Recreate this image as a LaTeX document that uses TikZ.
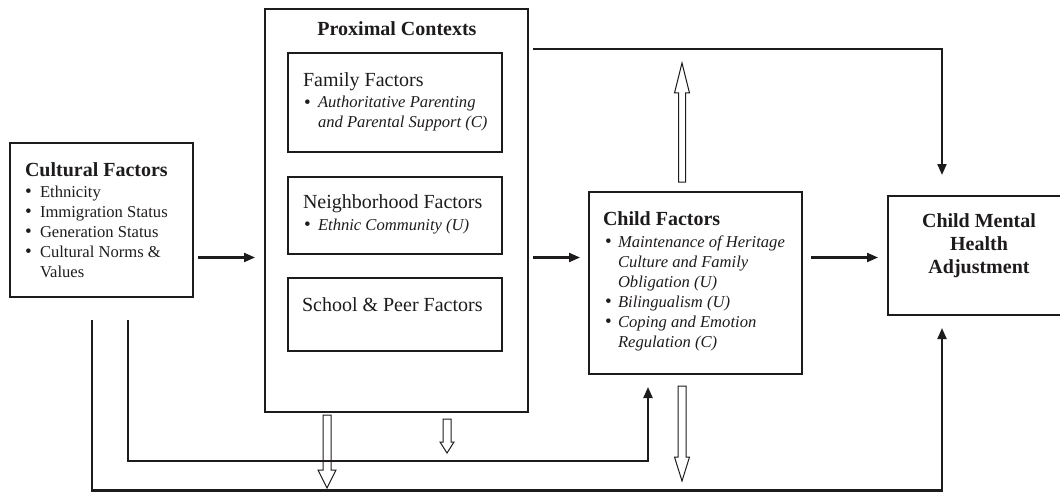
\documentclass[tikz,border=0pt]{standalone}
\usepackage{fontspec}
\setmainfont{Liberation Serif}
\usetikzlibrary{arrows.meta}
\definecolor{ink}{RGB}{30,27,28}
\newcommand\hdfnt{\fontsize{20}{23}\selectfont\bfseries}
\newcommand\rgfnt{\fontsize{20}{24}\selectfont}
\newcommand\itemfnt{\fontsize{16.6}{20}\selectfont}
\newcommand\bitem[2][15pt]{\hbox{\makebox[#1][l]{\raisebox{-0.7pt}{\scalebox{1.15}{\textbullet}}}#2}}
\newcommand\bcont[2][15pt]{\hbox{\hspace*{#1}#2}}
\newcommand\hollowarrow[6]{% x, ystart, yheadbase, ytip, shaftw, headw
  \draw[hollow] ({#1-#5/2},#2) -- ({#1-#5/2},#3) -- ({#1-#6/2},#3) -- (#1,#4) -- ({#1+#6/2},#3) -- ({#1+#5/2},#3) -- ({#1+#5/2},#2) -- cycle;}
\begin{document}
\begin{tikzpicture}[x=1pt,y=-1pt,
  box/.style={draw=ink, line width=2.3pt, inner sep=0pt, outer sep=0pt},
  txt/.style={inner sep=0pt, outer sep=0pt, text=ink, anchor=base west},
  arr/.style={draw=ink, line width=2.1pt, -{Triangle[length=11pt,width=9pt]}},
  hollow/.style={draw=ink, line width=1pt, line join=miter}]

\useasboundingbox (0,0) rectangle (1060,492);
\clip (0,0) rectangle (1060,492);

% boxes
\node[box, minimum width=183pt, minimum height=154pt] (cult) at (101.5,220) {};
\node[box, line width=2pt, minimum width=263pt, minimum height=403pt] (prox) at (396.5,210.5) {};
\node[box, minimum width=214pt, minimum height=99pt] (fam) at (395,102.5) {};
\node[box, minimum width=214pt, minimum height=77pt] (nbh) at (395,215.5) {};
\node[box, minimum width=214pt, minimum height=73pt] (sch) at (395,314.5) {};
\node[box, minimum width=213pt, minimum height=182pt] (child) at (695.5,283) {};
\node[box, minimum width=184pt, minimum height=119pt] (cmh) at (980,255.5) {};

% texts
\node[txt, font=\hdfnt] (cultT) at (25,176) {Cultural Factors};
\node[txt, font=\itemfnt] (cultL) at (25,197) {\vtop{\bitem{Ethnicity}\bitem{Immigration Status}\bitem{Generation Status}\bitem{Cultural Norms \&}\bcont{Values}}};

\node[txt, font=\hdfnt, anchor=base] (proxT) at (397,36) {Proximal Contexts};
\node[txt, font=\rgfnt] (famT) at (303,87) {Family Factors};
\node[txt, font=\itemfnt] (famL) at (304,108) {\vtop{\bitem[14pt]{\itshape Authoritative Parenting}\bcont[14pt]{\itshape and Parental Support (C)}}};
\node[txt, font=\rgfnt] (nbhT) at (303,208) {Neighborhood Factors};
\node[txt, font=\itemfnt] (nbhL) at (304,230) {\bitem[14pt]{\itshape Ethnic Community (U)}};
\node[txt, font=\rgfnt] (schT) at (302,311) {School \& Peer Factors};

\node[txt, font=\hdfnt] (childT) at (603,225) {Child Factors};
\node[txt, font=\itemfnt] (childL) at (605,247) {\vtop{\bitem[13pt]{\itshape Maintenance of Heritage}\bcont[13pt]{\itshape Culture and Family}\bcont[13pt]{\itshape Obligation (U)}\bitem[13pt]{\itshape Bilingualism (U)}\bitem[13pt]{\itshape Coping and Emotion}\bcont[13pt]{\itshape Regulation (C)}}};

\node[txt, font=\hdfnt, anchor=base] (cmhT1) at (979,227) {Child Mental};
\node[txt, font=\hdfnt, anchor=base] (cmhT2) at (979,250) {Health};
\node[txt, font=\hdfnt, anchor=base] (cmhT3) at (979,273) {Adjustment};

% helper coordinates
\coordinate (yMid) at (0,257.5);
\coordinate (yTop) at (0,49);
\coordinate (xR) at (942,0);
\coordinate (xO) at (92,0);
\coordinate (xI) at (128,0);
\coordinate (yO) at (0,490.5);
\coordinate (yI) at (0,461);
\coordinate (xC) at (648,0);

% connectors
\draw[arr, shorten <=5pt, shorten >=10pt] (cult.east |- yMid) -- (prox.west |- yMid);
\draw[arr, shorten <=5pt, shorten >=9pt] (prox.east |- yMid) -- (child.west |- yMid);
\draw[arr, shorten <=9pt, shorten >=10pt] (child.east |- yMid) -- (cmh.west |- yMid);
\draw[arr, shorten <=5pt, shorten >=21pt] (prox.east |- yTop) -| (xR |- cmh.north);
\draw[arr, shorten <=23pt, shorten >=13pt] (xO |- cult.south) -- (xO |- yO) -| (xR |- cmh.south);
\draw[arr, shorten <=23pt, shorten >=13pt] (xI |- cult.south) -- (xI |- yI) -| (xC |- child.south);

% hollow arrows
\hollowarrow{327}{415}{470}{488}{8}{18}
\hollowarrow{447}{419}{442}{453}{8}{14}
\hollowarrow{682}{182}{93}{63}{7}{15}
\hollowarrow{682}{386}{457}{481}{8}{15}
\end{tikzpicture}
\end{document}
